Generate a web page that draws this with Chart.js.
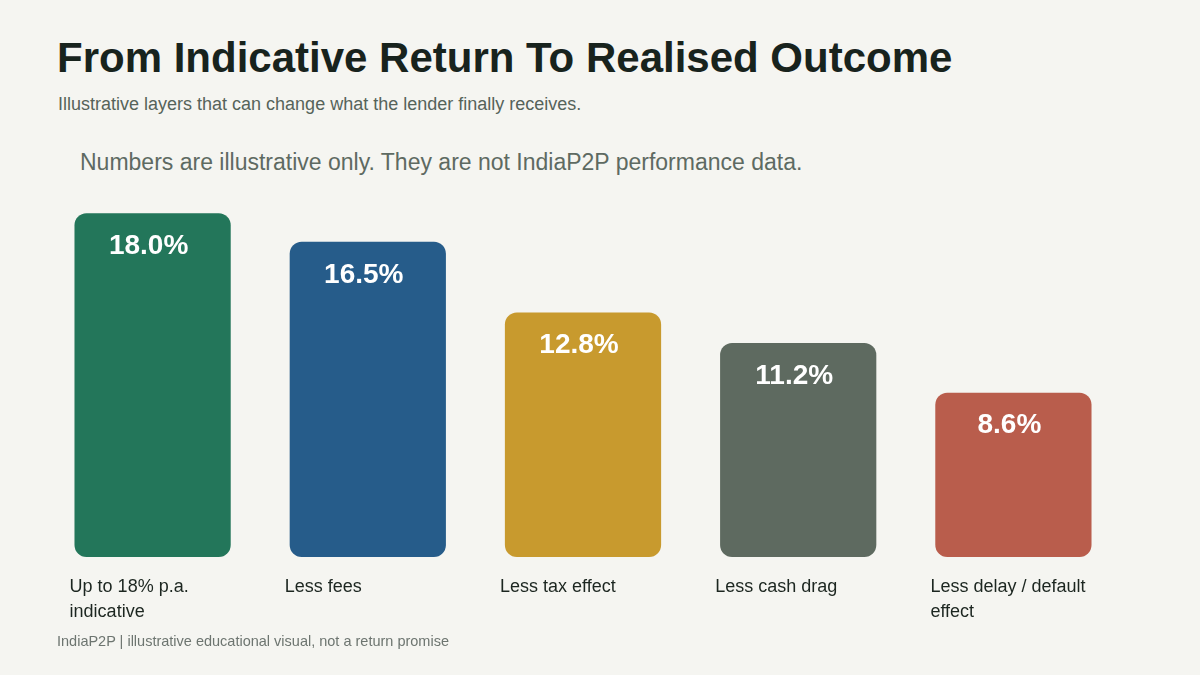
<!DOCTYPE html>
<html>
<head>
<meta charset="utf-8">
<script src="https://cdn.jsdelivr.net/npm/chart.js@4.4.1/dist/chart.umd.min.js"></script>
<style>
  html, body { margin: 0; padding: 0; }
  body {
    width: 1200px; height: 675px; position: relative; overflow: hidden;
    background: #f5f5f1; font-family: "Liberation Sans", Arial, sans-serif;
  }
  .title { position: absolute; left: 57px; top: 34px; font-size: 42px; font-weight: bold; color: #18231d; white-space: nowrap; }
  .sub { position: absolute; left: 58px; top: 94px; font-size: 18px; color: #56635a; white-space: nowrap; }
  .note { position: absolute; left: 80px; top: 149px; font-size: 23px; color: #5e6a62; white-space: nowrap; }
  .foot { position: absolute; left: 57px; top: 633px; font-size: 14.5px; color: #6d7570; white-space: nowrap; }
  #wrap { position: absolute; left: 0; top: 165px; width: 1200px; height: 478px; }
</style>
</head>
<body>
<div class="title">From Indicative Return To Realised Outcome</div>
<div class="sub">Illustrative layers that can change what the lender finally receives.</div>
<div class="note">Numbers are illustrative only. They are not IndiaP2P performance data.</div>
<div id="wrap"><canvas id="chart"></canvas></div>
<div class="foot">IndiaP2P | illustrative educational visual, not a return promise</div>
<script>
// chart data
const categories = [
  ["Up to 18% p.a.", "indicative"],
  ["Less fees"],
  ["Less tax effect"],
  ["Less cash drag"],
  ["Less delay / default", "effect"]
];
const returns = [18.0, 16.5, 12.8, 11.2, 8.6];
const barColors = ["#23765a", "#265c8a", "#c89a2e", "#5e6a60", "#b95d4c"];

// white value text inside the top of each bar
const valueLabels = {
  id: "valueLabels",
  afterDatasetsDraw(chart) {
    const ctx = chart.ctx;
    const meta = chart.getDatasetMeta(0);
    ctx.save();
    ctx.fillStyle = "#ffffff";
    ctx.font = "bold 28px 'Liberation Sans', Arial, sans-serif";
    ctx.textAlign = "center";
    ctx.textBaseline = "middle";
    meta.data.forEach((bar, i) => {
      ctx.fillText(returns[i].toFixed(1) + "%", bar.x - 4, bar.y + 33);
    });
    ctx.restore();
  }
};

new Chart(document.getElementById("chart"), {
  type: "bar",
  data: {
    labels: categories,
    datasets: [{
      data: returns,
      backgroundColor: barColors,
      borderRadius: 12,
      borderSkipped: false,
      categoryPercentage: 1,
      barPercentage: 0.726
    }]
  },
  options: {
    responsive: true,
    maintainAspectRatio: false,
    animation: false,
    layout: { padding: { left: 45, right: 79, top: 10, bottom: 0 } },
    plugins: { legend: { display: false }, tooltip: { enabled: false } },
    scales: {
      x: {
        grid: { display: false, drawTicks: false },
        border: { display: false },
        ticks: {
          color: "#1c2620",
          font: { family: "'Liberation Sans', Arial, sans-serif", size: 18, lineHeight: 1.39 },
          align: "start",
          labelOffset: -83,
          padding: 18,
          maxRotation: 0,
          autoSkip: false
        }
      },
      y: {
        display: false,
        min: 0,
        max: 20
      }
    }
  },
  plugins: [valueLabels]
});
</script>
</body>
</html>
